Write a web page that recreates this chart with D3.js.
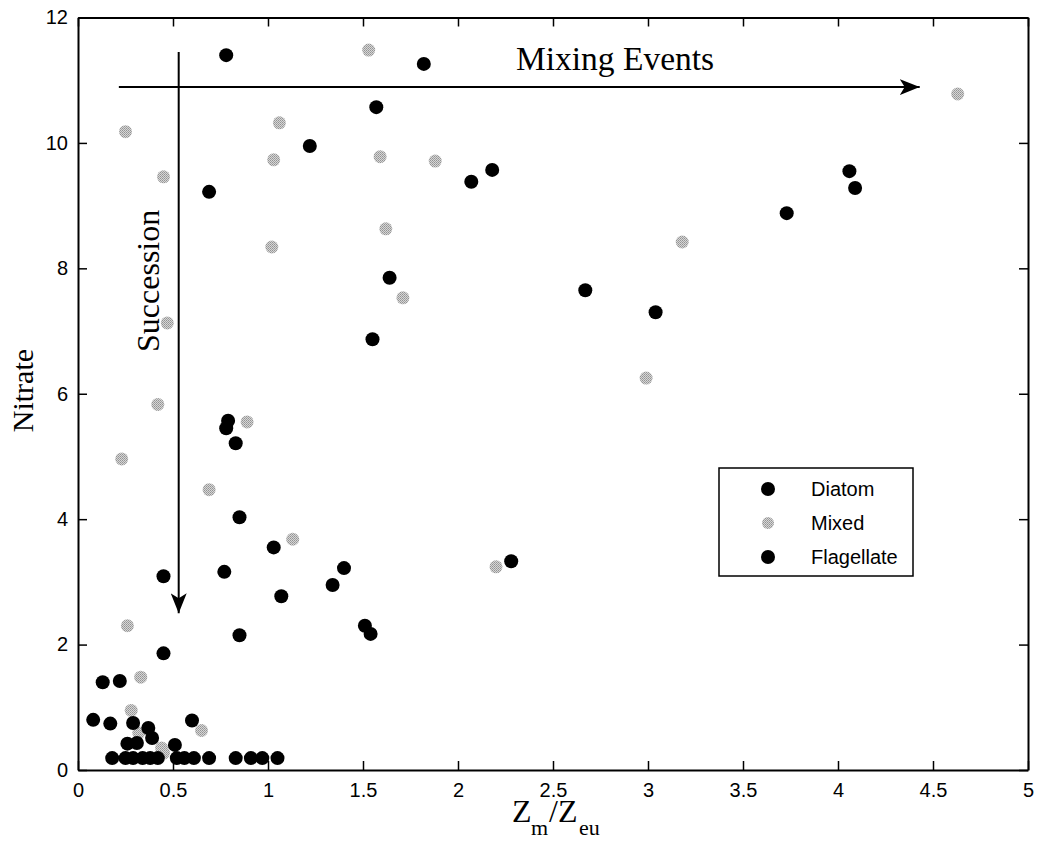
<!DOCTYPE html>
<html>
<head>
<meta charset="utf-8">
<script src="https://cdn.jsdelivr.net/npm/d3@7"></script>
<style>
  body { margin: 0; background: #fff; }
  .tick text { font-family: "Liberation Sans", Arial, sans-serif; font-size: 20px; fill: #000; }
  .tick line { stroke: #000; stroke-width: 1.5; }
  .domain { stroke: #000; stroke-width: 2; }
</style>
</head>
<body>
<div id="chart"></div>
<script>
// valores (Zm/Zeu , Nitrate)
var diatomX = [0.78, 1.82, 1.57, 1.22, 0.69, 2.07, 2.18, 3.73, 4.06, 4.09, 1.64, 2.67, 3.04, 1.55,
               0.79, 0.78, 0.83, 0.85, 1.03, 0.45, 0.77, 1.40, 1.34, 1.07, 0.85, 0.45, 1.51, 1.54, 2.28];
var diatomY = [11.40, 11.26, 10.57, 9.95, 9.22, 9.38, 9.57, 8.88, 9.55, 9.28, 7.85, 7.65, 7.30, 6.87,
               5.57, 5.45, 5.21, 4.03, 3.55, 3.09, 3.16, 3.22, 2.95, 2.77, 2.15, 1.86, 2.30, 2.17, 3.33];

var mixedX = [0.25, 0.45, 1.06, 1.03, 1.02, 1.53, 1.59, 1.88, 1.62, 1.71, 3.18, 4.63, 0.47, 0.42,
              0.23, 0.89, 0.69, 1.13, 2.99, 2.20, 0.26, 0.33, 0.28, 0.65, 0.32, 0.44, 0.45];
var mixedY = [10.18, 9.46, 10.32, 9.73, 8.34, 11.48, 9.78, 9.71, 8.63, 7.53, 8.42, 10.78, 7.13, 5.83,
              4.96, 5.55, 4.47, 3.68, 6.25, 3.24, 2.30, 1.48, 0.95, 0.63, 0.59, 0.35, 0.27];

var flagellateX = [0.13, 0.22, 0.08, 0.17, 0.29, 0.37, 0.60, 0.39, 0.26, 0.31, 0.51,
                   0.18, 0.25, 0.29, 0.34, 0.38, 0.42, 0.52, 0.56, 0.61, 0.69, 0.83, 0.91, 0.97, 1.05];
var flagellateY = [1.40, 1.42, 0.80, 0.74, 0.75, 0.67, 0.79, 0.51, 0.42, 0.43, 0.40,
                   0.19, 0.19, 0.19, 0.19, 0.19, 0.19, 0.19, 0.19, 0.19, 0.19, 0.19, 0.19, 0.19, 0.19];

var xTicks = [0, 0.5, 1, 1.5, 2, 2.5, 3, 3.5, 4, 4.5, 5];
var xTickLabels = ["0", "0.5", "1", "1.5", "2", "2.5", "3", "3.5", "4", "4.5", "5"];
var yTicks = [0, 2, 4, 6, 8, 10, 12];
var yTickLabels = ["0", "2", "4", "6", "8", "10", "12"];

var legendNames = ["Diatom", "Mixed", "Flagellate"];

// flechas: inicio y fin en unidades de datos
var mixingArrow = [[0.215, 10.89], [4.43, 10.89]];
var successionArrow = [[0.53, 11.45], [0.53, 2.5]];

var width = 1039, height = 841;
var svg = d3.select("#chart").append("svg")
    .attr("width", width)
    .attr("height", height);

var xScale = d3.scaleLinear().domain([0, 5]).range([78, 1028]);
var yScale = d3.scaleLinear().domain([0, 12]).range([770, 17.5]);

// patron punteado para los marcadores grises
var defs = svg.append("defs");
var pat = defs.append("pattern")
    .attr("id", "dots")
    .attr("width", 2).attr("height", 2)
    .attr("patternUnits", "userSpaceOnUse");
pat.append("rect").attr("width", 2).attr("height", 2).attr("fill", "#d6d6d6");
pat.append("rect").attr("width", 1).attr("height", 1).attr("fill", "#939393");
pat.append("rect").attr("x", 1).attr("y", 1).attr("width", 1).attr("height", 1).attr("fill", "#a3a3a3");

// ejes con marcas hacia dentro
svg.append("g")
    .attr("transform", "translate(0," + yScale(0) + ")")
    .call(d3.axisBottom(xScale).tickValues(xTicks).tickSizeInner(-9).tickSizeOuter(0).tickPadding(13)
        .tickFormat(function(d, i) { return xTickLabels[i]; }));

svg.append("g")
    .attr("transform", "translate(" + xScale(0) + ",0)")
    .call(d3.axisLeft(yScale).tickValues(yTicks).tickSizeInner(-9).tickSizeOuter(0).tickPadding(10)
        .tickFormat(function(d, i) { return yTickLabels[i]; }));

svg.append("g")
    .attr("transform", "translate(0," + yScale(12) + ")")
    .call(d3.axisTop(xScale).tickValues(xTicks).tickSizeInner(-9).tickSizeOuter(0).tickFormat(""));

svg.append("g")
    .attr("transform", "translate(" + xScale(5) + ",0)")
    .call(d3.axisRight(yScale).tickValues(yTicks).tickSizeInner(-9).tickSizeOuter(0).tickFormat(""));

// puntos
function toPoints(xs, ys) {
    return xs.map(function(x, i) { return { x: x, y: ys[i] }; });
}

svg.append("g").selectAll("circle")
    .data(toPoints(mixedX, mixedY))
    .enter().append("circle")
    .attr("cx", function(d) { return xScale(d.x); })
    .attr("cy", function(d) { return yScale(d.y); })
    .attr("r", 6.5)
    .attr("fill", "url(#dots)");

svg.append("g").selectAll("circle")
    .data(toPoints(diatomX, diatomY))
    .enter().append("circle")
    .attr("cx", function(d) { return xScale(d.x); })
    .attr("cy", function(d) { return yScale(d.y); })
    .attr("r", 7)
    .attr("fill", "#000");

svg.append("g").selectAll("circle")
    .data(toPoints(flagellateX, flagellateY))
    .enter().append("circle")
    .attr("cx", function(d) { return xScale(d.x); })
    .attr("cy", function(d) { return yScale(d.y); })
    .attr("r", 7)
    .attr("fill", "#000");

// flechas
defs.append("marker")
    .attr("id", "head")
    .attr("viewBox", "0 0 20 16")
    .attr("refX", 20).attr("refY", 8)
    .attr("markerWidth", 20).attr("markerHeight", 16)
    .attr("markerUnits", "userSpaceOnUse")
    .attr("orient", "auto")
    .append("path")
    .attr("d", "M0,0 L20,8 L0,16 L5,8 Z")
    .attr("fill", "#000");

var line = d3.line()
    .x(function(d) { return xScale(d[0]); })
    .y(function(d) { return yScale(d[1]); });

[mixingArrow, successionArrow].forEach(function(a) {
    svg.append("path")
        .attr("d", line(a))
        .attr("stroke", "#000")
        .attr("stroke-width", 2)
        .attr("fill", "none")
        .attr("marker-end", "url(#head)");
});

svg.append("text")
    .attr("x", xScale(2.305))
    .attr("y", yScale(11.16))
    .style("font-family", "'Liberation Serif', 'Times New Roman', serif")
    .style("font-size", "33.5px")
    .text("Mixing Events");

svg.append("text")
    .attr("transform", "translate(" + 159 + "," + yScale(7.8) + ") rotate(-90)")
    .attr("text-anchor", "middle")
    .style("font-family", "'Liberation Serif', 'Times New Roman', serif")
    .style("font-size", "32px")
    .text("Succession");

// titulos de ejes
svg.append("text")
    .attr("transform", "translate(33," + yScale(6.05) + ") rotate(-90)")
    .attr("text-anchor", "middle")
    .style("font-family", "'Liberation Serif', 'Times New Roman', serif")
    .style("font-size", "30px")
    .text("Nitrate");

// Zm/Zeu como partes separadas para los subindices
var zParts = [
    { t: "Z", x: 512, y: 822, size: 32 },
    { t: "m", x: 531, y: 835, size: 22 },
    { t: "/Z", x: 549, y: 822, size: 32 },
    { t: "eu", x: 579, y: 835, size: 22 }
];
zParts.forEach(function(p) {
    svg.append("text")
        .attr("x", p.x).attr("y", p.y)
        .style("font-family", "'Liberation Serif', 'Times New Roman', serif")
        .style("font-size", p.size + "px")
        .text(p.t);
});

// leyenda
var legend = svg.append("g").attr("transform", "translate(719,468)");
legend.append("rect")
    .attr("width", 194).attr("height", 108)
    .attr("fill", "#fff")
    .attr("stroke", "#000")
    .attr("stroke-width", 1.5);

legendNames.forEach(function(name, i) {
    var cy = 21 + i * 34;
    legend.append("circle")
        .attr("cx", 49).attr("cy", cy)
        .attr("r", name === "Mixed" ? 6 : 7)
        .attr("fill", name === "Mixed" ? "url(#dots)" : "#000");
    legend.append("text")
        .attr("x", 92).attr("y", cy + 7)
        .style("font-family", "'Liberation Sans', Arial, sans-serif")
        .style("font-size", "20px")
        .text(name);
});
</script>
</body>
</html>
